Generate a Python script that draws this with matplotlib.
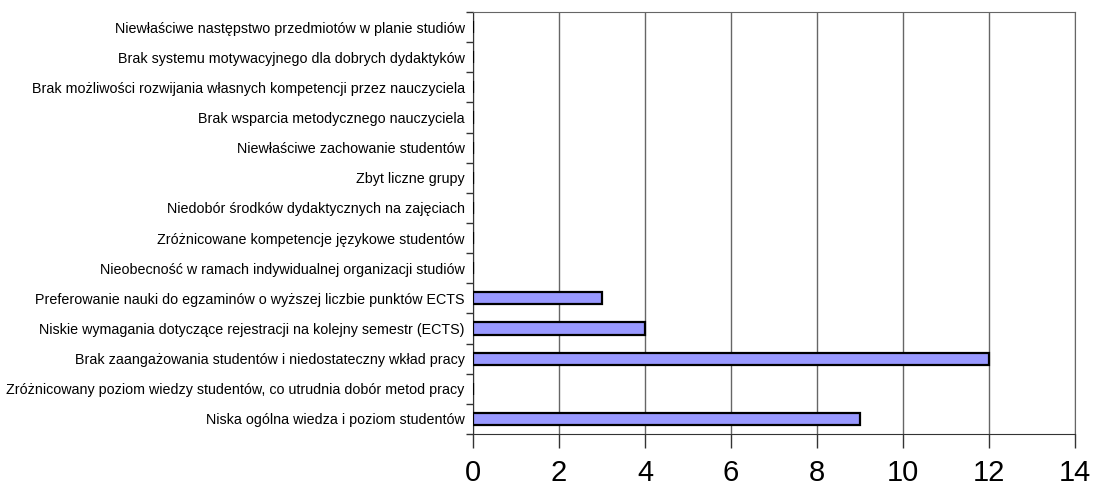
import matplotlib
matplotlib.use('Agg')
import matplotlib.pyplot as plt
import numpy as np

plt.rcParams['font.family'] = ['Liberation Sans', 'DejaVu Sans']

# categories listed bottom to top
categories = [
    'Niska ogólna wiedza i poziom studentów',
    'Zróżnicowany poziom wiedzy studentów, co utrudnia dobór metod pracy',
    'Brak zaangażowania studentów i niedostateczny wkład pracy',
    'Niskie wymagania dotyczące rejestracji na kolejny semestr (ECTS)',
    'Preferowanie nauki do egzaminów o wyższej liczbie punktów ECTS',
    'Nieobecność w ramach indywidualnej organizacji studiów',
    'Zróżnicowane kompetencje językowe studentów',
    'Niedobór środków dydaktycznych na zajęciach',
    'Zbyt liczne grupy',
    'Niewłaściwe zachowanie studentów',
    'Brak wsparcia metodycznego nauczyciela',
    'Brak możliwości rozwijania własnych kompetencji przez nauczyciela',
    'Brak systemu motywacyjnego dla dobrych dydaktyków',
    'Niewłaściwe następstwo przedmiotów w planie studiów',
]
counts = [9, 0, 12, 4, 3, 0, 0, 0, 0, 0, 0, 0, 0, 0]
xticks = [0, 2, 4, 6, 8, 10, 12, 14]

fig = plt.figure(figsize=(10.96, 4.95), dpi=100)
ax = fig.add_axes([0.4316, 0.1232, 0.5494, 0.8526])

y = np.arange(len(categories))
ax.barh(y, counts, height=0.4, color='#9999ff', edgecolor='black', linewidth=1.6, zorder=3)

ax.set_xlim(0, 14)
ax.set_ylim(-0.5, len(categories) - 0.5)
ax.set_xticks(xticks)
ax.set_xticklabels([str(t) for t in xticks], fontsize=21)
ax.set_yticks(y)
ax.set_yticklabels(categories, fontsize=10.3)
ax.set_yticks(np.arange(len(categories) + 1) - 0.5, minor=True)

ax.tick_params(axis='y', which='major', length=0, pad=6)
ax.tick_params(axis='y', which='minor', length=5, width=1, color='#333333')
ax.tick_params(axis='x', length=10, width=1, color='#333333', pad=8)

ax.grid(axis='x', color='#666666', linewidth=1, zorder=0)
for side in ['top', 'right']:
    ax.spines[side].set_color('#666666')
for side in ['left', 'bottom']:
    ax.spines[side].set_color('#333333')

fig.savefig('out.png', dpi=100)
